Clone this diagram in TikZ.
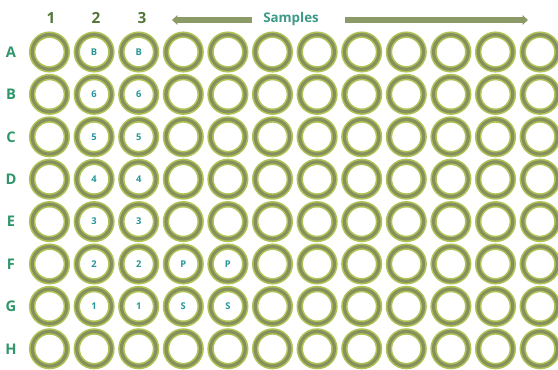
\documentclass[tikz,border=0pt]{standalone}
\usepackage{fontspec}
\setmainfont{Open Sans}
\usetikzlibrary{arrows.meta}
\definecolor{ringout}{RGB}{176,196,86}
\definecolor{ringin}{RGB}{134,144,94}
\definecolor{rowlab}{RGB}{46,150,104}
\definecolor{collab}{RGB}{84,118,58}
\definecolor{samplab}{RGB}{60,154,136}
\definecolor{welllab}{RGB}{40,150,150}
\definecolor{arrcol}{RGB}{140,154,104}
\tikzset{
  well/.style={circle, draw=ringout, line width=4.8pt, minimum size=26pt, inner sep=0pt,
    postaction={draw=ringin, line width=2.4pt}},
  welltext/.style={font=\bfseries\fontsize{7}{8}\selectfont, text=welllab, inner sep=0pt},
  rowlabel/.style={font=\bfseries\fontsize{11}{12}\selectfont, text=rowlab, inner sep=0pt},
  collabel/.style={font=\bfseries\fontsize{11.5}{13}\selectfont, text=collab, inner sep=0pt},
  samplabel/.style={font=\bfseries\fontsize{10}{12}\selectfont, text=samplab, inner sep=0pt},
  bararrow/.style={draw=arrcol, line width=4pt, -{Triangle[length=4pt,width=7pt]}},
}
\begin{document}
\begin{tikzpicture}[x=0.75pt,y=-0.75pt]
\useasboundingbox (0,0) rectangle (558,370);
\fill[white] (0,0) rectangle (558,370);
% wells
\foreach \r [count=\j] in {A,B,C,D,E,F,G,H}{
  \foreach \c in {1,...,12}{
    \node[well] (w-\r-\c) at ({49.5+(\c-1)*44.6},{52+(\j-1)*42.4}) {};
  }
  \node[rowlabel] (row-\r) at (11,{52+(\j-1)*42.4}) {\r};
}
% labels in wells
\foreach \r/\t in {A/B,B/6,C/5,D/4,E/3,F/2,G/1}{
  \node[welltext] (t-\r-2) at (w-\r-2) {\t};
  \node[welltext] (t-\r-3) at (w-\r-3) {\t};
}
\node[welltext] (t-F-4) at (w-F-4) {P};
\node[welltext] (t-F-5) at (w-F-5) {P};
\node[welltext] (t-G-4) at (w-G-4) {S};
\node[welltext] (t-G-5) at (w-G-5) {S};
% column numbers
\node[collabel] (c1) at (51,18) {1};
\node[collabel] (c2) at (96,18) {2};
\node[collabel] (c3) at (142,18) {3};
% samples
\node[samplabel] (samples) at (291,19) {Samples};
\coordinate (la) at (252,20);
\coordinate (lb) at (172,20);
\coordinate (ra) at (345,20);
\coordinate (rb) at (528,20);
\draw[bararrow] (la) -- (lb);
\draw[bararrow] (ra) -- (rb);
\end{tikzpicture}
\end{document}
